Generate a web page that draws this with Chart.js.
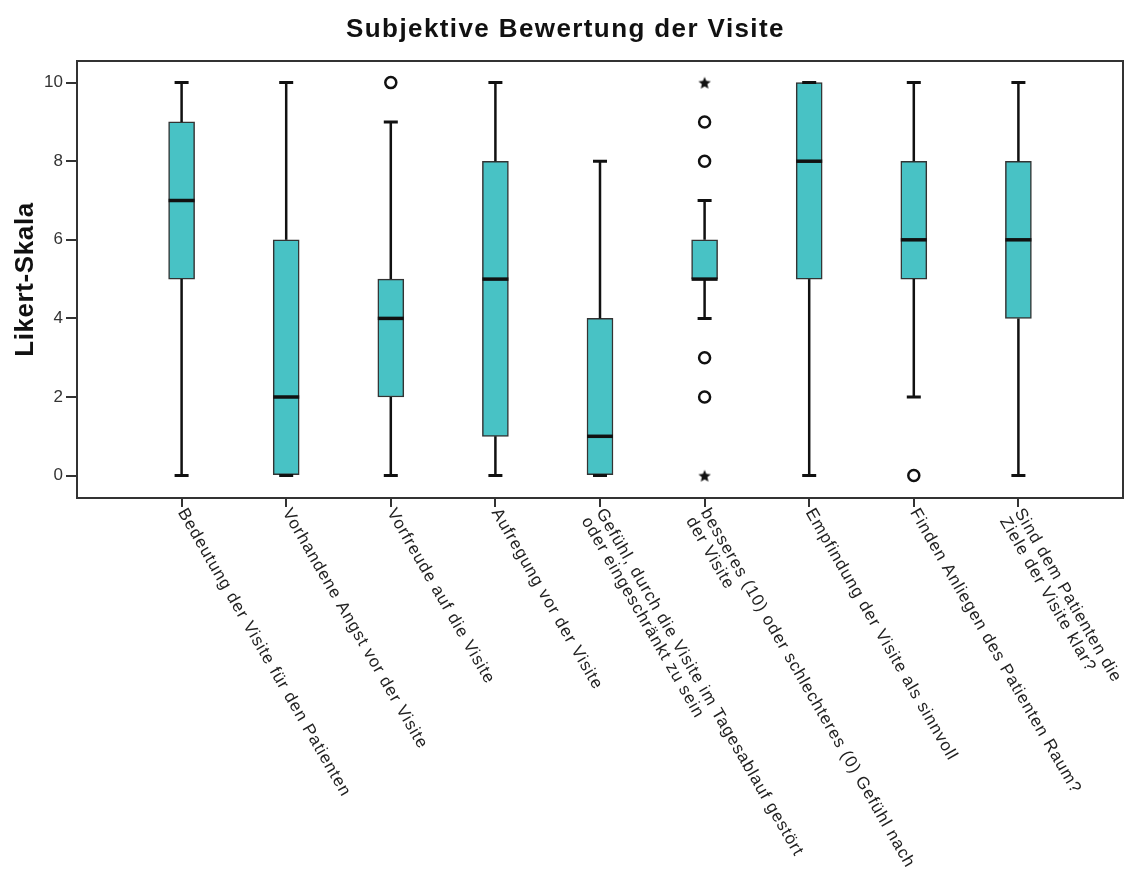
<!DOCTYPE html>
<html lang="de">
<head>
    <meta charset="UTF-8">
    <title>Subjektive Bewertung der Visite</title>
    <style>
        body {
            margin: 0;
            background: #ffffff;
        }
        #wrap {
            width: 1131px;
            height: 886px;
        }
    </style>
    <script src="https://cdn.jsdelivr.net/npm/chart.js"></script>
</head>
<body>
    <div id="wrap">
        <canvas id="boxChart" width="1131" height="886"></canvas>
    </div>
    <script>
        // categories (multi-line labels as arrays)
        const categories = [
            ['Bedeutung der Visite für den Patienten'],
            ['Vorhandene Angst vor der Visite'],
            ['Vorfreude auf die Visite'],
            ['Aufregung vor der Visite'],
            ['Gefühl, durch die Visite im Tagesablauf gestört', 'oder eingeschränkt zu sein'],
            ['besseres (10) oder schlechteres (0) Gefühl nach', 'der Visite'],
            ['Empfindung der Visite als sinnvoll'],
            ['Finden Anliegen des Patienten Raum?'],
            ['Sind dem Patienten die', 'Ziele der Visite klar?']
        ];

        // box plot statistics, one value per category
        const whiskerLow  = [0, 0, 0, 0, 0, 4, 0, 2, 0];
        const quartile1   = [5, 0, 2, 1, 0, 5, 5, 5, 4];
        const medians     = [7, 2, 4, 5, 1, 5, 8, 6, 6];
        const quartile3   = [9, 6, 5, 8, 4, 6, 10, 8, 8];
        const whiskerHigh = [10, 10, 9, 10, 8, 7, 10, 10, 10];

        // outliers (circles) and extremes (stars): category number + value
        const outlierCat = [3, 6, 6, 6, 6, 8];
        const outlierVal = [10, 9, 8, 3, 2, 0];
        const extremeCat = [6, 6];
        const extremeVal = [10, 0];

        const yTicks = [0, 2, 4, 6, 8, 10];

        const chartTitle = 'Subjektive Bewertung der Visite';
        const yTitle = 'Likert-Skala';

        const FONT = '"Liberation Sans", Arial, sans-serif';
        const BOX_FILL = '#48c2c5';
        const INK = '#111111';
        const BOX_W = 26;
        const CAP_W = 14;

        // filled star used as point style for extreme values
        function makeStar(size) {
            const c = document.createElement('canvas');
            c.width = size; c.height = size;
            const g = c.getContext('2d');
            const cx = size / 2, cy = size / 2 + 0.7;
            const ro = size / 2 - 0.5, ri = ro * 0.45;
            g.beginPath();
            for (let i = 0; i < 10; i++) {
                const r = i % 2 === 0 ? ro : ri;
                const a = -Math.PI / 2 + i * Math.PI / 5;
                const px = cx + r * Math.cos(a), py = cy + r * Math.sin(a);
                if (i === 0) g.moveTo(px, py); else g.lineTo(px, py);
            }
            g.closePath();
            g.fillStyle = INK;
            g.fill();
            return c;
        }

        // whiskers, caps, medians, frame, titles and slanted x labels
        const boxPlotExtras = {
            id: 'boxPlotExtras',
            afterDatasetsDraw(chart) {
                const ctx = chart.ctx;
                const xs = chart.scales.x, ys = chart.scales.y;
                ctx.save();
                ctx.strokeStyle = INK;
                for (let i = 0; i < categories.length; i++) {
                    const x = xs.getPixelForValue(i + 1);
                    const yLo = ys.getPixelForValue(whiskerLow[i]);
                    const yQ1 = ys.getPixelForValue(quartile1[i]);
                    const yQ3 = ys.getPixelForValue(quartile3[i]);
                    const yHi = ys.getPixelForValue(whiskerHigh[i]);
                    const yMed = ys.getPixelForValue(medians[i]);

                    ctx.lineWidth = 2.5;
                    ctx.beginPath();
                    ctx.moveTo(x, yQ3); ctx.lineTo(x, yHi);
                    ctx.moveTo(x, yQ1); ctx.lineTo(x, yLo);
                    ctx.stroke();

                    ctx.lineWidth = 3;
                    ctx.beginPath();
                    ctx.moveTo(x - CAP_W / 2, yHi); ctx.lineTo(x + CAP_W / 2, yHi);
                    ctx.moveTo(x - CAP_W / 2, yLo); ctx.lineTo(x + CAP_W / 2, yLo);
                    ctx.stroke();

                    ctx.lineWidth = 3.5;
                    ctx.beginPath();
                    ctx.moveTo(x - BOX_W / 2, yMed); ctx.lineTo(x + BOX_W / 2, yMed);
                    ctx.stroke();
                }
                ctx.restore();
            },
            afterDraw(chart) {
                const ctx = chart.ctx;
                const a = chart.chartArea;
                const xs = chart.scales.x;
                ctx.save();
                ctx.strokeStyle = '#333333';
                ctx.lineWidth = 2;
                ctx.strokeRect(a.left, a.top, a.right - a.left, a.bottom - a.top);

                // chart title
                ctx.fillStyle = INK;
                ctx.font = 'bold 26px ' + FONT;
                ctx.letterSpacing = '1.4px';
                ctx.textAlign = 'center';
                ctx.textBaseline = 'alphabetic';
                ctx.fillText(chartTitle, chart.width / 2, 37);

                // y axis title
                ctx.save();
                ctx.letterSpacing = '0.6px';
                ctx.translate(33, (a.top + a.bottom) / 2);
                ctx.rotate(-Math.PI / 2);
                ctx.fillText(yTitle, 0, 0);
                ctx.restore();

                // slanted category labels, first line centred on the tick
                ctx.fillStyle = '#222222';
                ctx.font = '17px ' + FONT;
                ctx.letterSpacing = '1px';
                ctx.textAlign = 'left';
                ctx.textBaseline = 'middle';
                const angle = 60 * Math.PI / 180;
                categories.forEach((lines, i) => {
                    const x = xs.getPixelForValue(i + 1);
                    ctx.save();
                    ctx.translate(x, a.bottom + 12);
                    ctx.rotate(angle);
                    lines.forEach((line, j) => ctx.fillText(line, 0, j * 17));
                    ctx.restore();
                });
                ctx.restore();
            }
        };

        const boxData = categories.map((_, i) => ({ x: i + 1, y: [quartile1[i], quartile3[i]] }));
        const outlierData = outlierCat.map((c, i) => ({ x: c, y: outlierVal[i] }));
        const extremeData = extremeCat.map((c, i) => ({ x: c, y: extremeVal[i] }));

        new Chart(document.getElementById('boxChart').getContext('2d'), {
            type: 'bar',
            data: {
                datasets: [{
                    label: 'Box',
                    data: boxData,
                    backgroundColor: BOX_FILL,
                    borderColor: '#333333',
                    borderWidth: 1.5,
                    borderSkipped: false,
                    barThickness: BOX_W
                }, {
                    type: 'scatter',
                    label: 'Ausreißer',
                    data: outlierData,
                    pointStyle: 'circle',
                    pointRadius: 5.5,
                    pointBorderWidth: 2.5,
                    pointBorderColor: INK,
                    pointBackgroundColor: '#ffffff'
                }, {
                    type: 'scatter',
                    label: 'Extremwerte',
                    data: extremeData,
                    pointStyle: makeStar(14),
                    pointRadius: 7
                }]
            },
            options: {
                responsive: false,
                animation: false,
                layout: { padding: { left: 0, right: 7, top: 61, bottom: 0 } },
                plugins: {
                    legend: { display: false },
                    tooltip: { enabled: false },
                    title: { display: false }
                },
                scales: {
                    x: {
                        type: 'linear',
                        min: 0,
                        max: 10,
                        offset: false,
                        afterBuildTicks: s => { s.ticks = categories.map((_, i) => ({ value: i + 1 })); },
                        afterFit: s => { s.height = 886 - 498; },
                        ticks: { display: false },
                        grid: { offset: false, drawOnChartArea: false, drawTicks: true, tickLength: 9, color: '#333333', lineWidth: 2 },
                        border: { display: false }
                    },
                    y: {
                        min: -0.57,
                        max: 10.55,
                        afterBuildTicks: s => { s.ticks = yTicks.map(v => ({ value: v })); },
                        afterFit: s => { s.width = 77; },
                        ticks: {
                            color: '#333333',
                            padding: 3,
                            font: { family: FONT, size: 17 }
                        },
                        grid: { drawOnChartArea: false, drawTicks: true, tickLength: 11, color: '#333333', lineWidth: 2 },
                        border: { display: false }
                    }
                }
            },
            plugins: [boxPlotExtras]
        });
    </script>
</body>
</html>
